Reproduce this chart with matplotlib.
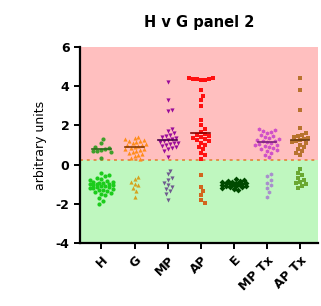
import numpy as np
import matplotlib
matplotlib.use("Agg")
import matplotlib.pyplot as plt

groups = ["H", "G", "MP", "AP", "E", "MP Tx", "AP Tx"]
threshold = 0.25

# values above / below the threshold
h_hi = [1.3, 1.1, 0.9, 0.85, 0.8, 0.75, 0.72, 0.7, 0.65, 0.35]
h_lo = [-0.45, -0.55, -0.6, -0.7, -0.75, -0.8, -0.85, -0.9, -0.9, -0.95, -0.95, -1.0,
        -1.0, -1.0, -1.05, -1.05, -1.1, -1.1, -1.15, -1.15, -1.2, -1.2, -1.25, -1.3,
        -1.3, -1.35, -1.4, -1.45, -1.5, -1.55, -1.7, -1.85, -2.0]
g_hi = [1.4, 1.35, 1.3, 1.25, 1.2, 1.2, 1.15, 1.1, 1.05, 1.0, 1.0, 0.95, 0.9, 0.85,
        0.8, 0.8, 0.75, 0.7, 0.65, 0.6, 0.55, 0.5, 0.45, 0.35, 0.3]
g_lo = [-0.65, -0.75, -0.9, -1.0, -1.05, -1.2, -1.35, -1.65]
mp_hi = [4.2, 3.3, 2.8, 2.75, 1.8, 1.7, 1.6, 1.5, 1.45, 1.4, 1.35, 1.3, 1.25, 1.2,
         1.15, 1.1, 1.1, 1.05, 1.0, 0.95, 0.9, 0.85, 0.8, 0.7, 0.4]
mp_lo = [-0.3, -0.5, -0.7, -0.8, -0.95, -1.05, -1.15, -1.25, -1.35, -1.5, -1.8]
ap_hi = [4.4, 4.4, 4.38, 4.35, 4.35, 4.3, 4.3, 3.8, 3.5, 3.3, 3.0, 2.3, 2.0, 1.8, 1.65,
         1.55, 1.5, 1.45, 1.4, 1.35, 1.3, 1.25, 1.2, 1.1, 1.0, 0.9, 0.8, 0.6, 0.5, 0.3]
ap_lo = [-0.55, -1.15, -1.35, -1.55, -1.8, -1.95]
e_hi = []
e_lo = [-0.75, -0.8, -0.85, -0.85, -0.9, -0.9, -0.95, -0.95, -0.95, -1.0, -1.0, -1.0,
        -1.0, -1.05, -1.05, -1.05, -1.1, -1.1, -1.1, -1.15, -1.15, -1.2, -1.25, -1.3]
mptx_hi = [1.8, 1.75, 1.7, 1.65, 1.6, 1.5, 1.45, 1.4, 1.35, 1.3, 1.25, 1.2, 1.2, 1.15,
           1.1, 1.05, 1.0, 1.0, 0.95, 0.9, 0.85, 0.8, 0.75, 0.7, 0.6, 0.5, 0.4]
mptx_lo = [-0.5, -0.6, -0.8, -0.95, -1.05, -1.2, -1.4, -1.65]
aptx_hi = [4.4, 3.8, 2.8, 1.85, 1.6, 1.5, 1.45, 1.4, 1.35, 1.3, 1.25, 1.2, 1.15, 1.1,
           1.0, 0.9, 0.8, 0.7, 0.6, 0.5]
aptx_lo = [-0.2, -0.45, -0.55, -0.7, -0.8, -0.9, -0.95, -1.0, -1.1, -1.2]

hi_data = [h_hi, g_hi, mp_hi, ap_hi, e_hi, mptx_hi, aptx_hi]
lo_data = [h_lo, g_lo, mp_lo, ap_lo, e_lo, mptx_lo, aptx_lo]
hi_colors = ["#3f9f2a", "#ff8c1a", "#9a0a9a", "#ff1010", "#005000", "#d050c8", "#b8732e"]
lo_colors = ["#1ccc1c", "#d4a21e", "#6e5a8e", "#d2651e", "#004a00", "#a88fcc", "#6aa832"]
markers = ["o", "^", "v", "s", "D", "h", "s"]
med_colors = ["#2a6a1a", "#8a3a00", "#4a004a", "#8a0000", "#003000", "#7a207a", "#6a3a10"]


def swarm(vals, ypx=19.6, xpx=33.3, d=4.0, maxoff=12.0):
    # greedy beeswarm in pixel space, returns x offsets in category units
    placed = []
    offs = []
    cands = [0.0]
    for i in range(1, 12):
        cands += [i * 2.0, -i * 2.0]
    cands = [c for c in cands if abs(c) <= maxoff]
    for v in vals:
        y = v * ypx
        best = None
        bestd = -1
        for c in cands:
            mind = min([(px - c) ** 2 + (py - y) ** 2 for (px, py) in placed] + [1e9])
            if mind >= d * d:
                best = c
                break
            if mind > bestd:
                bestd = mind
                best = c
        placed.append((best, y))
        offs.append(best / xpx)
    return np.array(offs)


fig = plt.figure(figsize=(3.21, 3.06), dpi=100)
ax = fig.add_axes([0.249, 0.206, 0.742, 0.64])
ax.set_xlim(-0.65, 6.55)
ax.set_ylim(-4, 6)
ax.axhspan(threshold, 6, color="#ffbfbf", zorder=0, lw=0)
ax.axhspan(-4, threshold, color="#bff7bf", zorder=0, lw=0)
ax.axhline(threshold, color="#e0904a", ls=(0, (1.5, 2)), lw=1.4, zorder=1)

for i in range(len(groups)):
    for vals, col in [(hi_data[i], hi_colors[i]), (lo_data[i], lo_colors[i])]:
        if len(vals) == 0:
            continue
        vals = np.array(vals)
        order = np.argsort(np.abs(vals - np.median(vals)))
        v = vals[order]
        x = i + swarm(v)
        ax.scatter(x, v, s=9, marker=markers[i], color=col, lw=0, zorder=3)
    if len(hi_data[i]) > 0:
        m = np.median(hi_data[i])
        ax.plot([i - 0.28, i + 0.28], [m, m], color=med_colors[i], lw=1.2, zorder=4)

for s in ["top", "right"]:
    ax.spines[s].set_visible(False)
for s in ["left", "bottom"]:
    ax.spines[s].set_linewidth(1.6)
ax.set_xticks(range(len(groups)))
ax.set_xticklabels(groups, rotation=45, ha="right", rotation_mode="anchor",
                   fontweight="bold", fontsize=9)
ax.set_yticks([-4, -2, 0, 2, 4, 6])
ax.set_yticklabels(["-4", "-2", "0", "2", "4", "6"], fontweight="bold", fontsize=9)
ax.tick_params(width=1.4, length=4)
ax.set_ylabel("arbitrary units", fontsize=9, labelpad=6)
fig.suptitle("H v G panel 2", fontweight="bold", fontsize=10.5, x=0.62, y=0.95)
fig.savefig("out.png", dpi=100)
